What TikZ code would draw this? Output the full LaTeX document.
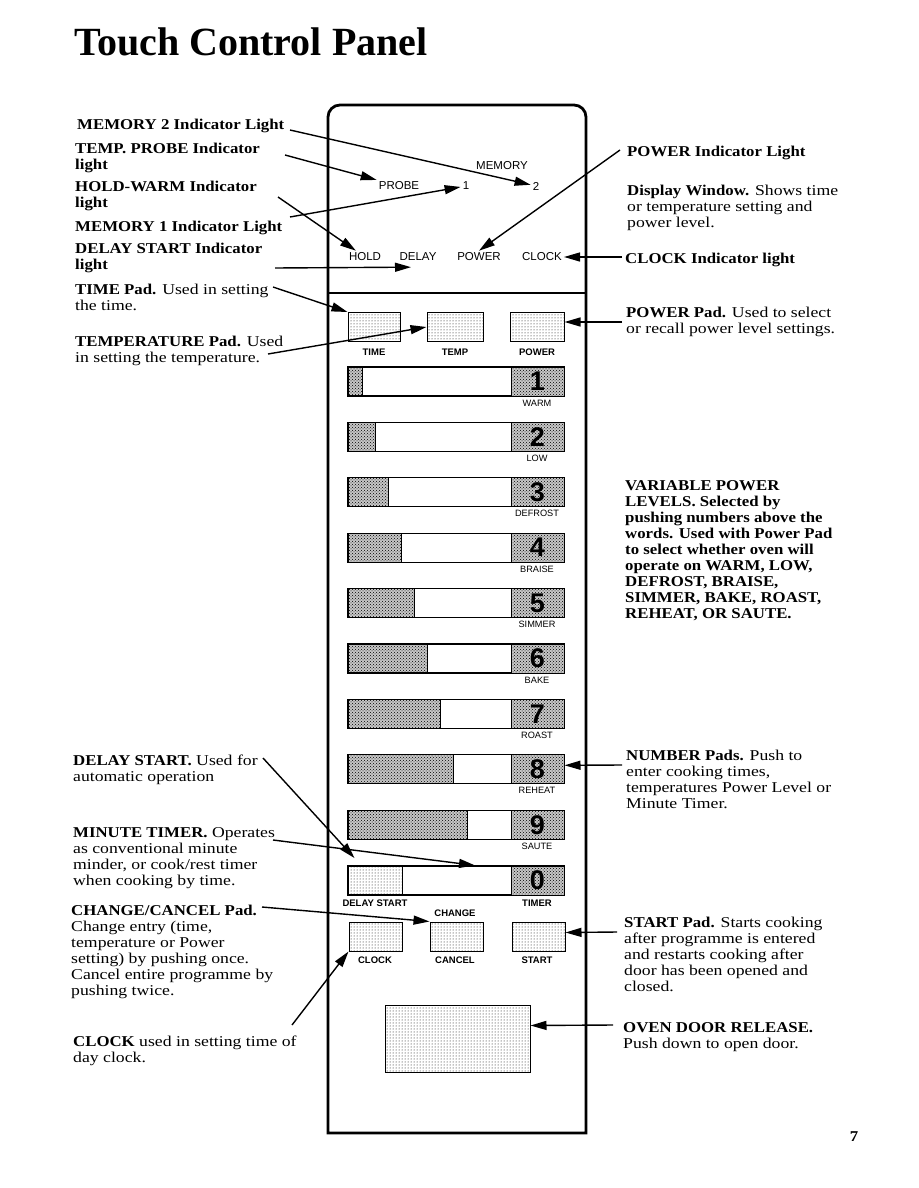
\documentclass[tikz,border=0pt]{standalone}
\usepackage{fontspec}
\setmainfont{Liberation Serif}[UprightFeatures={FakeStretch=1.18},BoldFeatures={FakeStretch=1.12}]
\newfontfamily\titlefont{Liberation Serif}
\newfontfamily\panelfont{Liberation Sans}
\usetikzlibrary{arrows.meta,patterns}
\begin{document}
\begin{tikzpicture}[x=1pt,y=-1pt,
 desc/.style={anchor=base west,align=left,inner sep=0pt,font=\fontsize{15}{16}\selectfont},
 ind/.style={inner sep=2pt,font=\panelfont\fontsize{11.5}{12}\selectfont},
 padlbl/.style={inner sep=1pt,font=\panelfont\bfseries\fontsize{9.5}{10}\selectfont},
 barlbl/.style={inner sep=1pt,font=\panelfont\fontsize{9.2}{10}\selectfont},
 pad/.style={draw,line width=1pt,pattern=dots,minimum height=29pt,inner sep=0pt},
 numpad/.style={draw,line width=1pt,preaction={fill=black!22},pattern=crosshatch dots,minimum width=53pt,minimum height=29pt,inner sep=0pt,font=\panelfont\bfseries\fontsize{27}{27}\selectfont},
 barbox/.style={draw,line width=1.2pt,minimum width=216pt,minimum height=29pt,inner sep=0pt},
 lead/.style={line width=1.4pt,-{Triangle[length=16pt,width=9pt]}},
]
\useasboundingbox (0,0) rectangle (918,1188);

% title
\node[anchor=base west,inner sep=0pt,font=\titlefont\bfseries\fontsize{40}{40}\selectfont] (title) at (74,56) {Touch Control Panel};

% panel outline
\draw[line width=2.8pt] (328,1133) -- (328,400) [rounded corners=12pt] -- (328,105) -- (586,105) -- (586,400) [sharp corners] -- (586,1133) -- cycle;
\draw[line width=1.2pt] (328,293) -- (586,293);

% indicator labels
\node[ind] (memory) at (502,166) {MEMORY};
\node[ind] (probe) at (399,186) {PROBE};
\node[ind] (one) at (466,186) {1};
\node[ind] (two) at (536,186) {2};
\node[ind] (hold) at (365,257) {HOLD};
\node[ind] (delay) at (418,257) {DELAY};
\node[ind] (powerind) at (479,257) {POWER};
\node[ind] (clockind) at (542,257) {CLOCK};

% top pads
\node[pad,minimum width=52pt] (timepad) at (374,327) {};
\node[pad,minimum width=56pt] (temppad) at (455,327) {};
\node[pad,minimum width=54pt] (powerpad) at (537,327) {};
\node[padlbl] (timel) at (374,352) {TIME};
\node[padlbl] (templ) at (455,352) {TEMP};
\node[padlbl] (powerl) at (537,352) {POWER};

% number bars
\foreach \k/\d/\lbl/\s in {1/1/WARM/362,2/2/LOW/375,3/3/DEFROST/388,4/4/BRAISE/401,5/5/SIMMER/414,6/6/BAKE/427,7/7/ROAST/440,8/8/REHEAT/453,9/9/SAUTE/467}{
  \pgfmathsetmacro{\t}{367+(\k-1)*55.4}
  \fill[black!22] (348,\t) rectangle (\s,\t+29);
  \fill[pattern=crosshatch dots] (348,\t) rectangle (\s,\t+29);
  \draw[line width=0.8pt] (\s,\t) -- (\s,\t+29);
  \node[barbox] (bar\k) at (456,\t+14.5) {};
  \node[numpad] (n\k) at (537.5,\t+14.5) {\d};
  \node[barlbl] (l\k) at (537,\t+36) {\lbl};
}
% zero bar
\node[barbox] (bar0) at (456,880.5) {};
\node[pad,minimum width=54pt] (ds) at (375,880.5) {};
\node[numpad] (n0) at (537.5,880.5) {0};
\node[padlbl] (dsl) at (375,903) {DELAY START};
\node[padlbl] (timerl) at (537,903) {TIMER};

% bottom pads
\node[padlbl] (changel) at (455,913) {CHANGE};
\node[pad,minimum width=53pt] (clockpad) at (375.5,936.5) {};
\node[pad,minimum width=53pt] (cancelpad) at (456.5,936.5) {};
\node[pad,minimum width=53pt] (startpad) at (538.5,936.5) {};
\node[padlbl] (clockl) at (375,960) {CLOCK};
\node[padlbl] (cancell) at (455,960) {CANCEL};
\node[padlbl] (startl) at (537,960) {START};

% door release
\node[draw,line width=1pt,pattern=dots,minimum width=145pt,minimum height=67pt,inner sep=0pt] (door) at (457.5,1038.5) {};

% left texts (anchor = baseline of last line)
\node[desc] (tm2) at (77,130) {\textbf{MEMORY 2 Indicator Light}};
\node[desc] (tprobe) at (75,169) {\textbf{TEMP. PROBE Indicator}\\\textbf{light}};
\node[desc] (thold) at (75,207) {\textbf{HOLD-WARM Indicator}\\\textbf{light}};
\node[desc] (tm1) at (75,231) {\textbf{MEMORY 1 Indicator Light}};
\node[desc] (tdel) at (75,269) {\textbf{DELAY START Indicator}\\\textbf{light}};
\node[desc] (ttime) at (75,310) {\textbf{TIME Pad.} Used in setting\\the time.};
\node[desc] (ttemp) at (75,362) {\textbf{TEMPERATURE Pad.} Used\\in setting the temperature.};
\node[desc] (tds) at (73,781) {\textbf{DELAY START.} Used for\\automatic operation};
\node[desc] (tmin) at (73,885) {\textbf{MINUTE TIMER.} Operates\\as conventional minute\\minder, or cook/rest timer\\when cooking by time.};
\node[desc] (tchg) at (71,995) {\textbf{CHANGE/CANCEL Pad.}\\Change entry (time,\\temperature or Power\\setting) by pushing once.\\Cancel entire programme by\\pushing twice.};
\node[desc] (tclk) at (73,1062) {\textbf{CLOCK} used in setting time of\\day clock.};

% right texts
\node[desc] (tpwi) at (627,157) {\textbf{POWER Indicator Light}};
\node[desc] (tdisp) at (627,227) {\textbf{Display Window.} Shows time\\or temperature setting and\\power level.};
\node[desc] (tclki) at (625,263) {\textbf{CLOCK Indicator light}};
\node[desc] (tpwp) at (626,333) {\textbf{POWER Pad.} Used to select\\or recall power level settings.};
\node[desc,font=\bfseries\fontsize{15}{16}\selectfont] (tvar) at (625,618) {VARIABLE POWER\\LEVELS. Selected by\\pushing numbers above the\\words. Used with Power Pad\\to select whether oven will\\operate on WARM, LOW,\\DEFROST, BRAISE,\\SIMMER, BAKE, ROAST,\\REHEAT, OR SAUTE.};
\node[desc] (tnum) at (626,808) {\textbf{NUMBER Pads.} Push to\\enter cooking times,\\temperatures Power Level or\\Minute Timer.};
\node[desc] (tstart) at (624,991) {\textbf{START Pad.} Starts cooking\\after programme is entered\\and restarts cooking after\\door has been opened and\\closed.};
\node[desc] (tdoor) at (623,1048) {\textbf{OVEN DOOR RELEASE.}\\Push down to open door.};

\node[anchor=base,inner sep=0pt,font=\bfseries\fontsize{15}{15}\selectfont] (pg) at (854,1141) {7};

% leader start points
\coordinate (a1) at (290,130);
\coordinate (a2) at (285,155);
\coordinate (a3) at (278,197);
\coordinate (a4) at (290,217);
\coordinate (a5) at (275,268);
\coordinate (a6) at (273,287);
\coordinate (a7) at (268,354);
\coordinate (a8) at (263,758);
\coordinate (a9) at (273,840);
\coordinate (a10) at (262,907);
\coordinate (a11) at (292,1025);
\coordinate (b1) at (620,150);
\coordinate (b2) at (622,257);
\coordinate (b3) at (622,322);
\coordinate (b4) at (622,765);
\coordinate (b5) at (617,932);
\coordinate (b6) at (613,1025);

% leaders
\draw[lead] (a1) -- (two);
\draw[lead] (a2) -- (probe);
\draw[lead] (a3) -- (hold);
\draw[lead] (a4) -- (one);
\draw[lead] (a5) -- ([xshift=-7pt,yshift=-4pt]delay.south);
\draw[lead] (a6) -- (timepad.north west);
\draw[lead] (a7) -- (temppad.west);
\draw[lead,shorten >=10pt] (a8) -- (ds);
\draw[lead] (a9) -- ([xshift=19pt]bar0.north);
\draw[lead] (a10) -- (cancelpad.north west);
\draw[lead] (a11) -- (clockpad.south west);
\draw[lead] (b1) -- (powerind.north);
\draw[lead] (b2) -- (clockind.east);
\draw[lead] (b3) -- ([yshift=5pt]powerpad.east);
\draw[lead] (b4) -- ([yshift=4pt]n8.east);
\draw[lead] (b5) -- ([yshift=4pt]startpad.east);
\draw[lead] (b6) -- ([yshift=13pt]door.east);
\end{tikzpicture}
\end{document}
